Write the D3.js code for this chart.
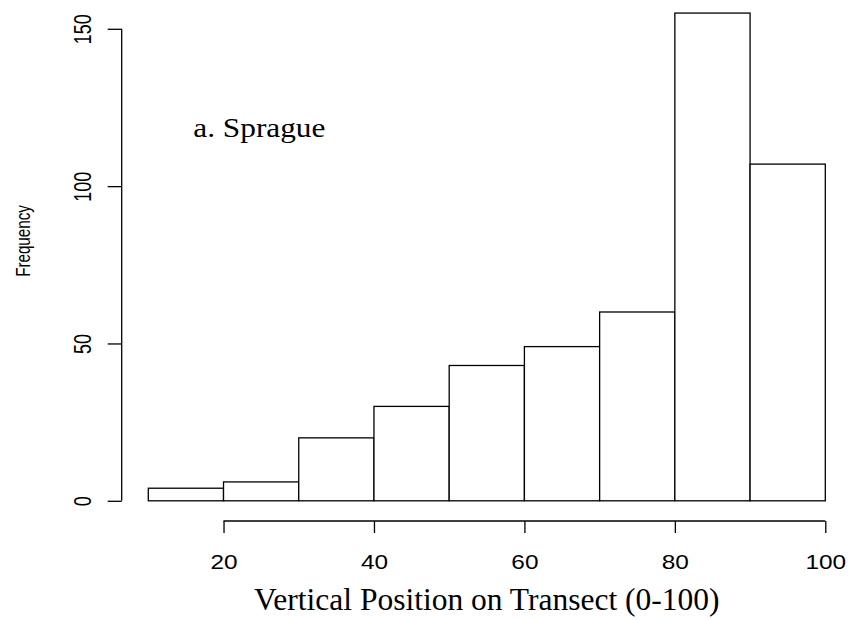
<!DOCTYPE html>
<html>
<head>
<meta charset="utf-8">
<script src="https://cdn.jsdelivr.net/npm/d3@7"></script>
<style>
  html, body { margin: 0; padding: 0; background: #fff; }
  svg { display: block; }
</style>
</head>
<body>
<script>
// Histogram of vertical positions along the transect
const binEdges = [10, 20, 30, 40, 50, 60, 70, 80, 90, 100];
const counts = [4, 6, 20, 30, 43, 49, 60, 155, 107];
const xTickValues = [20, 40, 60, 80, 100];
const yTickValues = [0, 50, 100, 150];
const panelLabel = "a. Sprague";
const xTitle = "Vertical Position on Transect (0-100)";
const yTitle = "Frequency";

const W = 851, H = 620;
const sans = "'Liberation Sans', Arial, Helvetica, sans-serif";
const serif = "'Liberation Serif', 'Times New Roman', Times, serif";

const bins = counts.map((c, i) => ({ x0: binEdges[i], x1: binEdges[i + 1], n: c }));

const x = d3.scaleLinear().domain([10, 100]).range([148.3, 825.3]);
const y = d3.scaleLinear().domain([0, 150]).range([500.8, 28.8]);

const svg = d3.select("body").append("svg")
  .attr("width", W).attr("height", H)
  .attr("viewBox", `0 0 ${W} ${H}`);

svg.append("rect").attr("width", W).attr("height", H).attr("fill", "#fff");

// bars
svg.append("g")
  .selectAll("rect")
  .data(bins)
  .join("rect")
  .attr("x", d => x(d.x0))
  .attr("y", d => y(d.n))
  .attr("width", d => x(d.x1) - x(d.x0))
  .attr("height", d => y(0) - y(d.n))
  .attr("fill", "#fff")
  .attr("stroke", "#000")
  .attr("stroke-width", 1.3);

// left axis
const yAxisX = 121.7;
const gy = svg.append("g")
  .attr("transform", `translate(${yAxisX},0)`)
  .call(d3.axisLeft(y).tickValues(yTickValues).tickSize(14).tickSizeOuter(0).tickFormat(d3.format("d")));
gy.select(".domain").remove();
gy.append("line")
  .attr("x1", 0).attr("x2", 0)
  .attr("y1", y(yTickValues[0])).attr("y2", y(yTickValues[yTickValues.length - 1]))
  .attr("stroke", "#000").attr("stroke-width", 1.3);
gy.selectAll(".tick line").attr("stroke", "#000").attr("stroke-width", 1.3);
gy.selectAll(".tick text")
  .attr("x", null).attr("dy", null)
  .attr("transform", `translate(${90.5 - yAxisX},0) scale(1.33,1) rotate(-90)`)
  .attr("text-anchor", "middle")
  .attr("fill", "#000")
  .style("font-family", sans)
  .style("font-size", "18px");

// bottom axis
const xAxisY = 521;
const gx = svg.append("g")
  .attr("transform", `translate(0,${xAxisY})`)
  .call(d3.axisBottom(x).tickValues(xTickValues).tickSize(12).tickSizeOuter(0).tickFormat(d3.format("d")));
gx.select(".domain").remove();
gx.append("line")
  .attr("y1", 0).attr("y2", 0)
  .attr("x1", x(xTickValues[0])).attr("x2", x(xTickValues[xTickValues.length - 1]))
  .attr("stroke", "#000").attr("stroke-width", 1.3);
gx.selectAll(".tick line").attr("stroke", "#000").attr("stroke-width", 1.3);
gx.selectAll(".tick text")
  .attr("y", null).attr("dy", null)
  .attr("transform", `translate(0,${569.3 - xAxisY}) scale(1.22,1)`)
  .attr("text-anchor", "middle")
  .attr("fill", "#000")
  .style("font-family", sans)
  .style("font-size", "20px");

// axis titles
svg.append("text")
  .attr("transform", "translate(29.5,241) scale(1.38,1) rotate(-90)")
  .attr("text-anchor", "middle")
  .style("font-family", sans)
  .style("font-size", "15.2px")
  .text(yTitle);

svg.append("text")
  .attr("x", x(55)).attr("y", 610)
  .attr("text-anchor", "middle")
  .style("font-family", serif)
  .style("font-size", "31.5px")
  .text(xTitle);

// panel label
svg.append("text")
  .attr("transform", "translate(193.3,137) scale(1.16,1)")
  .style("font-family", serif)
  .style("font-size", "27px")
  .text(panelLabel);
</script>
</body>
</html>
